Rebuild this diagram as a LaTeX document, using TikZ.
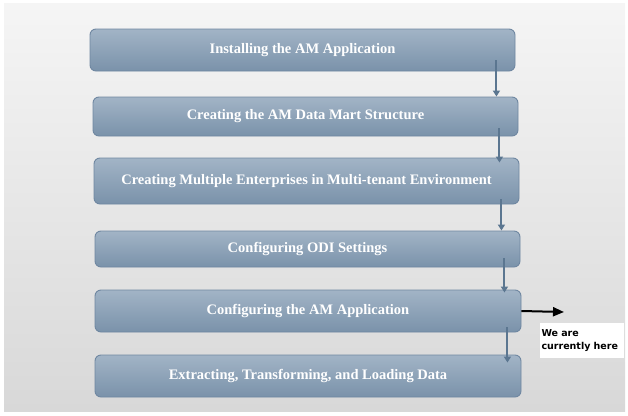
\documentclass[tikz,border=0pt]{standalone}
\usepackage{fontspec}
\setmainfont{Liberation Serif}
\newfontfamily\notefont{DejaVu Sans}
\usetikzlibrary{calc,arrows.meta}
\definecolor{boxtop}{HTML}{A2B4C6}
\definecolor{boxbot}{HTML}{7A92AA}
\definecolor{boxline}{HTML}{6F87A1}
\definecolor{flowcol}{HTML}{5B7690}
\definecolor{bgtop}{HTML}{F5F5F5}
\definecolor{bgbot}{HTML}{D8D8D8}
\tikzset{
  stepbox/.style={rectangle, rounded corners=6pt, draw=boxline, line width=0.9pt,
    top color=boxtop, bottom color=boxbot, text=white,
    font=\fontsize{14.5}{16}\selectfont\bfseries, inner sep=0pt},
  flow/.style={draw=flowcol, line width=2pt, -{Triangle[length=6pt,width=7pt]}},
  here/.style={draw=black, line width=2pt, -{Triangle[length=11pt,width=9pt]}},
  notebox/.style={fill=white, inner sep=0pt, align=left,
    font=\notefont\fontsize{9.5}{13}\selectfont\bfseries, text=black}
}
\begin{document}
\begin{tikzpicture}[x=1pt,y=-1pt]
\useasboundingbox (0,0) rectangle (628,415);
\shade[top color=bgtop, bottom color=bgbot] (4,3) rectangle (625,411);

\node[stepbox, minimum width=425pt, minimum height=42pt] (b1) at (302.5,50) {Installing the AM Application};
\node[stepbox, minimum width=425pt, minimum height=39pt] (b2) at (305.5,116.5) {Creating the AM Data Mart Structure};
\node[stepbox, minimum width=425pt, minimum height=46pt] (b3) at (306.5,181) {Creating Multiple Enterprises in Multi-tenant Environment};
\node[stepbox, minimum width=425pt, minimum height=36pt] (b4) at (307.5,249) {Configuring ODI Settings};
\node[stepbox, minimum width=426pt, minimum height=42pt] (b5) at (308,311) {Configuring the AM Application};
\node[stepbox, minimum width=426pt, minimum height=42pt] (b6) at (308,376) {Extracting, Transforming, and Loading Data};

\coordinate (s1) at ($(b1.south east)+(-19,-11)$);
\coordinate (s2) at ($(b2.south east)+(-19,-8)$);
\coordinate (s3) at ($(b3.south east)+(-18,-5)$);
\coordinate (s4) at ($(b4.south east)+(-16,-9)$);
\coordinate (s5) at ($(b5.south east)+(-14,-5)$);
\draw[flow] (s1) -- (s1 |- b2.north);
\draw[flow] (s2) -- ($(s2 |- b3.north)+(0,5)$);
\draw[flow] (s3) -- (s3 |- b4.north);
\draw[flow] (s4) -- ($(s4 |- b5.north)+(0,3)$);
\draw[flow] (s5) -- ($(s5 |- b6.north)+(0,8)$);

\coordinate (h) at (564,312);
\draw[here] (b5.east) -- (h);
\node[notebox, minimum width=84pt, minimum height=35pt, text width=81pt] (note) at (582,340.5) {We are\\currently here};
\end{tikzpicture}
\end{document}
